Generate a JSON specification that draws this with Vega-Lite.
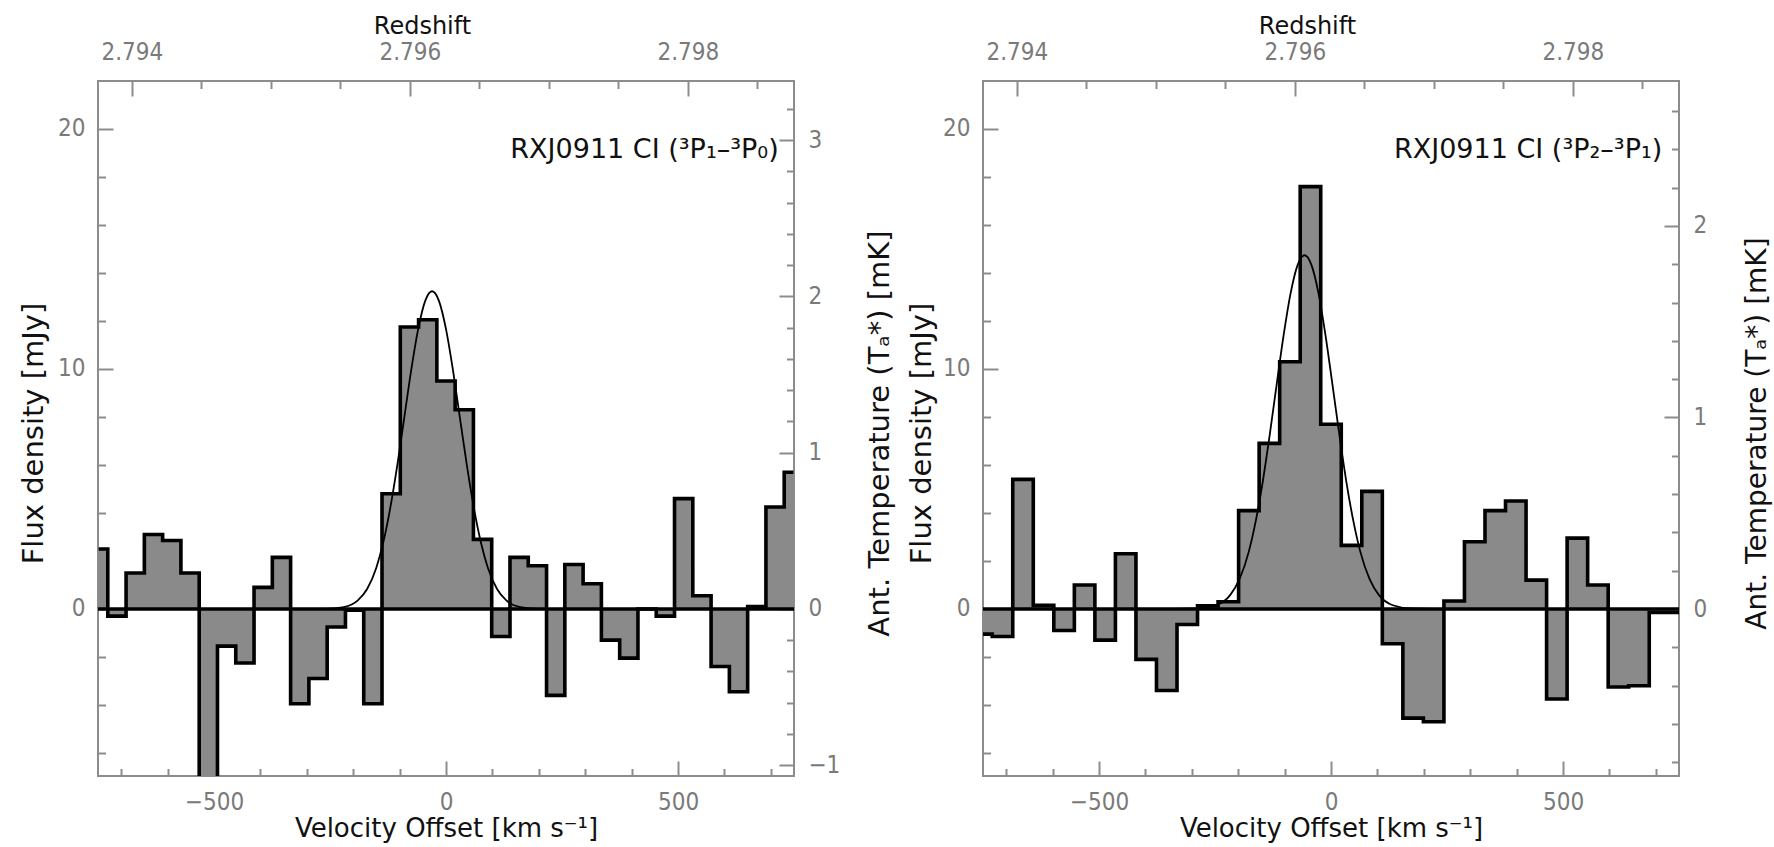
{
  "$schema": "https://vega.github.io/schema/vega-lite/v6.json",
  "padding": {"left": 18, "top": 13, "right": 5, "bottom": 5},
  "background": "white",
  "datasets": {
    "spec1": [
      {"v": -748.6, "f": 2.5}, {"v": -709.2, "f": -0.3}, {"v": -669.8, "f": 1.5}, {"v": -630.4, "f": 3.1},
      {"v": -591.0, "f": 2.85}, {"v": -551.6, "f": 1.5}, {"v": -512.2, "f": -8.0}, {"v": -472.8, "f": -1.55},
      {"v": -433.4, "f": -2.25}, {"v": -394.0, "f": 0.9}, {"v": -354.6, "f": 2.15}, {"v": -315.2, "f": -3.95},
      {"v": -275.8, "f": -2.9}, {"v": -236.4, "f": -0.75}, {"v": -197.0, "f": -0.05}, {"v": -157.6, "f": -3.95},
      {"v": -118.2, "f": 4.8}, {"v": -78.8, "f": 11.75}, {"v": -39.4, "f": 12.05}, {"v": 0.0, "f": 9.5},
      {"v": 39.4, "f": 8.3}, {"v": 78.8, "f": 2.9}, {"v": 118.2, "f": -1.15}, {"v": 157.6, "f": 2.15},
      {"v": 197.0, "f": 1.8}, {"v": 236.4, "f": -3.6}, {"v": 275.8, "f": 1.85}, {"v": 315.2, "f": 1.05},
      {"v": 354.6, "f": -1.3}, {"v": 394.0, "f": -2.05}, {"v": 433.4, "f": 0.0}, {"v": 472.8, "f": -0.3},
      {"v": 512.2, "f": 4.6}, {"v": 551.6, "f": 0.55}, {"v": 591.0, "f": -2.4}, {"v": 630.4, "f": -3.45},
      {"v": 669.8, "f": 0.1}, {"v": 709.2, "f": 4.25}, {"v": 748.6, "f": 5.7}
    ],
    "gauss1": [
      {"v": -750, "f": 0}, {"v": -310, "f": 0.0002}, {"v": -260, "f": 0.0075}, {"v": -220, "f": 0.081},
      {"v": -190, "f": 0.356}, {"v": -170, "f": 0.831}, {"v": -150, "f": 1.73}, {"v": -135, "f": 2.79},
      {"v": -120, "f": 4.22}, {"v": -105, "f": 5.98}, {"v": -90, "f": 7.96}, {"v": -75, "f": 9.95},
      {"v": -60, "f": 11.66}, {"v": -45, "f": 12.83}, {"v": -30, "f": 13.24}, {"v": -15, "f": 12.83},
      {"v": 0, "f": 11.66}, {"v": 15, "f": 9.95}, {"v": 30, "f": 7.96}, {"v": 45, "f": 5.98},
      {"v": 60, "f": 4.22}, {"v": 75, "f": 2.79}, {"v": 90, "f": 1.73}, {"v": 110, "f": 0.831},
      {"v": 130, "f": 0.356}, {"v": 160, "f": 0.081}, {"v": 200, "f": 0.0075}, {"v": 250, "f": 0.0002},
      {"v": 750, "f": 0}
    ],
    "spec2": [
      {"v": -752.25, "f": -1.05}, {"v": -708.0, "f": -1.15}, {"v": -663.75, "f": 5.4}, {"v": -619.5, "f": 0.15},
      {"v": -575.25, "f": -0.9}, {"v": -531.0, "f": 1.0}, {"v": -486.75, "f": -1.3}, {"v": -442.5, "f": 2.3},
      {"v": -398.25, "f": -2.1}, {"v": -354.0, "f": -3.4}, {"v": -309.75, "f": -0.65}, {"v": -265.5, "f": 0.13},
      {"v": -221.25, "f": 0.3}, {"v": -177.0, "f": 4.1}, {"v": -132.75, "f": 6.9}, {"v": -88.5, "f": 10.3},
      {"v": -44.25, "f": 17.6}, {"v": 0.0, "f": 7.7}, {"v": 44.25, "f": 2.65}, {"v": 88.5, "f": 4.9},
      {"v": 132.75, "f": -1.45}, {"v": 177.0, "f": -4.55}, {"v": 221.25, "f": -4.7}, {"v": 265.5, "f": 0.33},
      {"v": 309.75, "f": 2.8}, {"v": 354.0, "f": 4.1}, {"v": 398.25, "f": 4.5}, {"v": 442.5, "f": 1.2},
      {"v": 486.75, "f": -3.75}, {"v": 531.0, "f": 2.95}, {"v": 575.25, "f": 1.0}, {"v": 619.5, "f": -3.25},
      {"v": 663.75, "f": -3.2}, {"v": 708.0, "f": -0.15}, {"v": 752.25, "f": -0.15}
    ],
    "gauss2": [
      {"v": -750, "f": 0}, {"v": -337, "f": 0.0008}, {"v": -287, "f": 0.019}, {"v": -247, "f": 0.156},
      {"v": -217, "f": 0.586}, {"v": -197, "f": 1.25}, {"v": -177, "f": 2.4}, {"v": -162, "f": 3.68},
      {"v": -147, "f": 5.31}, {"v": -132, "f": 7.26}, {"v": -117, "f": 9.37}, {"v": -102, "f": 11.42},
      {"v": -87, "f": 13.16}, {"v": -72, "f": 14.33}, {"v": -57, "f": 14.74}, {"v": -42, "f": 14.33},
      {"v": -27, "f": 13.16}, {"v": -12, "f": 11.42}, {"v": 3, "f": 9.37}, {"v": 18, "f": 7.26},
      {"v": 33, "f": 5.31}, {"v": 48, "f": 3.68}, {"v": 63, "f": 2.4}, {"v": 83, "f": 1.25},
      {"v": 103, "f": 0.586}, {"v": 133, "f": 0.156}, {"v": 173, "f": 0.019}, {"v": 223, "f": 0.0008},
      {"v": 750, "f": 0}
    ],
    "label1": [{"t": "RXJ0911 CI (³P₁–³P₀)"}],
    "label2": [{"t": "RXJ0911 CI (³P₂–³P₁)"}],
    "sec1": [{"z": 2.794, "t": 0}, {"z": 2.798, "t": 3}],
    "sec2": [{"z": 2.794, "t": 0}, {"z": 2.798, "t": 2}]
  },
  "hconcat": [
    {
      "width": 696, "height": 695,
      "layer": [
        {
          "layer": [
            {
              "data": {"name": "spec1"},
              "mark": {"type": "area", "interpolate": "step", "color": "#8a8a8a", "clip": true},
              "encoding": {
                "x": {"field": "v", "type": "quantitative", "scale": {"domain": [-750, 750], "nice": false, "zero": false},
                  "axis": {"orient": "bottom", "title": "Velocity Offset [km s⁻¹]", "values": [-500, 0, 500], "format": "d",
                    "ticks": false, "tickSize": 0, "labelPadding": 14, "titleX": 348, "titleY": 52, "titleBaseline": "middle", "titleAlign": "center"}},
                "y": {"field": "f", "type": "quantitative", "scale": {"domain": [-6.96, 22], "nice": false, "zero": false},
                  "axis": {"orient": "left", "title": "Flux density [mJy]", "titleFontSize": 29, "values": [0, 10, 20], "format": "d",
                    "ticks": false, "tickSize": 0, "labelPadding": 13, "titleX": -65, "titleY": 352, "titleAngle": -90, "titleBaseline": "middle", "titleAlign": "center"}},
                "y2": {"datum": 0}
              }
            },
            {
              "data": {"name": "gauss1"},
              "mark": {"type": "line", "interpolate": "monotone", "color": "#000000", "strokeWidth": 1.8, "clip": true},
              "encoding": {
                "x": {"field": "v", "type": "quantitative", "scale": {"domain": [-750, 750], "nice": false, "zero": false}, "axis": null},
                "y": {"field": "f", "type": "quantitative", "scale": {"domain": [-6.96, 22], "nice": false, "zero": false}, "axis": null}
              }
            },
            {
              "data": {"name": "spec1"},
              "mark": {"type": "line", "interpolate": "step", "color": "#000000", "strokeWidth": 3.6, "clip": true},
              "encoding": {
                "x": {"field": "v", "type": "quantitative", "scale": {"domain": [-750, 750], "nice": false, "zero": false}, "axis": null},
                "y": {"field": "f", "type": "quantitative", "scale": {"domain": [-6.96, 22], "nice": false, "zero": false}, "axis": null}
              }
            },
            {
              "data": {"name": "label1"},
              "mark": {"type": "rule", "color": "#000000", "strokeWidth": 3.6},
              "encoding": {
                "y": {"datum": 0, "type": "quantitative", "scale": {"domain": [-6.96, 22], "nice": false, "zero": false}, "axis": null}
              }
            },
            {
              "data": {"name": "label1"},
              "mark": {"type": "text", "align": "right", "baseline": "alphabetic", "font": "DejaVu Sans", "fontSize": 27, "color": "#111111"},
              "encoding": {
                "x": {"datum": 717, "type": "quantitative", "scale": {"domain": [-750, 750], "nice": false, "zero": false}, "axis": null},
                "y": {"datum": 18.8, "type": "quantitative", "scale": {"domain": [-6.96, 22], "nice": false, "zero": false}, "axis": null},
                "text": {"field": "t"}
              }
            },
            {
              "data": {"name": "spec1"},
              "mark": {"type": "point", "opacity": 0},
              "encoding": {
                "x": {"field": "v", "type": "quantitative", "scale": {"domain": [-750, 750], "nice": false, "zero": false},
                  "axis": {"orient": "bottom", "title": null, "labels": false, "values": [-700,-600,-500,-400,-300,-200,-100,0,100,200,300,400,500,600,700],
                    "tickSize": {"condition": {"test": "datum.value % 500 === 0", "value": -15}, "value": -7.5}}},
                "y": {"field": "f", "type": "quantitative", "scale": {"domain": [-6.96, 22], "nice": false, "zero": false},
                  "axis": {"orient": "left", "title": null, "labels": false, "values": [-6,-4,-2,0,2,4,6,8,10,12,14,16,18,20],
                    "tickSize": {"condition": {"test": "datum.value % 10 === 0", "value": -15}, "value": -7.5}}}
              }
            }
          ],
          "resolve": {"axis": {"x": "independent", "y": "independent"}}
        },
        {
          "layer": [
            {
              "data": {"name": "sec1"},
              "mark": {"type": "point", "opacity": 0},
              "encoding": {
                "x": {"field": "z", "type": "quantitative", "scale": {"domain": [2.793756, 2.798764], "nice": false, "zero": false},
                  "axis": {"orient": "top", "title": "Redshift", "titleFontSize": 24, "values": [2.794, 2.796, 2.798], "format": ".3f",
                    "ticks": false, "tickSize": 0, "labelPadding": 17, "titleX": 324, "titleY": -55, "titleBaseline": "middle", "titleAlign": "center"}},
                "y": {"field": "t", "type": "quantitative", "scale": {"domain": [-1.069, 3.379], "nice": false, "zero": false},
                  "axis": {"orient": "right", "title": "Ant. Temperature (Tₐ*) [mK]", "titleFontSize": 29, "values": [-1, 0, 1, 2, 3], "format": "d",
                    "ticks": false, "tickSize": 0, "labelPadding": 14, "titleX": 85, "titleY": 352, "titleAngle": -90, "titleBaseline": "middle", "titleAlign": "center"}}
              }
            },
            {
              "data": {"name": "sec1"},
              "mark": {"type": "point", "opacity": 0},
              "encoding": {
                "x": {"field": "z", "type": "quantitative", "scale": {"domain": [2.793756, 2.798764], "nice": false, "zero": false},
                  "axis": {"orient": "top", "title": null, "labels": false, "values": [2.794, 2.7945, 2.795, 2.7955, 2.796, 2.7965, 2.797, 2.7975, 2.798, 2.7985],
                    "tickSize": {"condition": {"test": "abs(datum.value*500 - round(datum.value*500)) < 0.01", "value": -15}, "value": -7.5}}},
                "y": {"field": "t", "type": "quantitative", "scale": {"domain": [-1.069, 3.379], "nice": false, "zero": false},
                  "axis": {"orient": "right", "title": null, "labels": false, "values": [-1,-0.8,-0.6,-0.4,-0.2,0,0.2,0.4,0.6,0.8,1,1.2,1.4,1.6,1.8,2,2.2,2.4,2.6,2.8,3,3.2],
                    "tickSize": {"condition": {"test": "abs(datum.value - round(datum.value)) < 0.001", "value": -15}, "value": -7.5}}}
              }
            }
          ],
          "resolve": {"axis": {"x": "independent", "y": "independent"}}
        }
      ],
      "resolve": {"scale": {"x": "independent", "y": "independent"}}
    },
    {
      "width": 696, "height": 695,
      "layer": [
        {
          "layer": [
            {
              "data": {"name": "spec2"},
              "mark": {"type": "area", "interpolate": "step", "color": "#8a8a8a", "clip": true},
              "encoding": {
                "x": {"field": "v", "type": "quantitative", "scale": {"domain": [-750, 750], "nice": false, "zero": false},
                  "axis": {"orient": "bottom", "title": "Velocity Offset [km s⁻¹]", "values": [-500, 0, 500], "format": "d",
                    "ticks": false, "tickSize": 0, "labelPadding": 14, "titleX": 348, "titleY": 52, "titleBaseline": "middle", "titleAlign": "center"}},
                "y": {"field": "f", "type": "quantitative", "scale": {"domain": [-6.96, 22], "nice": false, "zero": false},
                  "axis": {"orient": "left", "title": "Flux density [mJy]", "titleFontSize": 29, "values": [0, 10, 20], "format": "d",
                    "ticks": false, "tickSize": 0, "labelPadding": 13, "titleX": -62, "titleY": 352, "titleAngle": -90, "titleBaseline": "middle", "titleAlign": "center"}},
                "y2": {"datum": 0}
              }
            },
            {
              "data": {"name": "gauss2"},
              "mark": {"type": "line", "interpolate": "monotone", "color": "#000000", "strokeWidth": 1.8, "clip": true},
              "encoding": {
                "x": {"field": "v", "type": "quantitative", "scale": {"domain": [-750, 750], "nice": false, "zero": false}, "axis": null},
                "y": {"field": "f", "type": "quantitative", "scale": {"domain": [-6.96, 22], "nice": false, "zero": false}, "axis": null}
              }
            },
            {
              "data": {"name": "spec2"},
              "mark": {"type": "line", "interpolate": "step", "color": "#000000", "strokeWidth": 3.6, "clip": true},
              "encoding": {
                "x": {"field": "v", "type": "quantitative", "scale": {"domain": [-750, 750], "nice": false, "zero": false}, "axis": null},
                "y": {"field": "f", "type": "quantitative", "scale": {"domain": [-6.96, 22], "nice": false, "zero": false}, "axis": null}
              }
            },
            {
              "data": {"name": "label2"},
              "mark": {"type": "rule", "color": "#000000", "strokeWidth": 3.6},
              "encoding": {
                "y": {"datum": 0, "type": "quantitative", "scale": {"domain": [-6.96, 22], "nice": false, "zero": false}, "axis": null}
              }
            },
            {
              "data": {"name": "label2"},
              "mark": {"type": "text", "align": "right", "baseline": "alphabetic", "font": "DejaVu Sans", "fontSize": 27, "color": "#111111"},
              "encoding": {
                "x": {"datum": 714, "type": "quantitative", "scale": {"domain": [-750, 750], "nice": false, "zero": false}, "axis": null},
                "y": {"datum": 18.8, "type": "quantitative", "scale": {"domain": [-6.96, 22], "nice": false, "zero": false}, "axis": null},
                "text": {"field": "t"}
              }
            },
            {
              "data": {"name": "spec2"},
              "mark": {"type": "point", "opacity": 0},
              "encoding": {
                "x": {"field": "v", "type": "quantitative", "scale": {"domain": [-750, 750], "nice": false, "zero": false},
                  "axis": {"orient": "bottom", "title": null, "labels": false, "values": [-700,-600,-500,-400,-300,-200,-100,0,100,200,300,400,500,600,700],
                    "tickSize": {"condition": {"test": "datum.value % 500 === 0", "value": -15}, "value": -7.5}}},
                "y": {"field": "f", "type": "quantitative", "scale": {"domain": [-6.96, 22], "nice": false, "zero": false},
                  "axis": {"orient": "left", "title": null, "labels": false, "values": [-6,-4,-2,0,2,4,6,8,10,12,14,16,18,20],
                    "tickSize": {"condition": {"test": "datum.value % 10 === 0", "value": -15}, "value": -7.5}}}
              }
            }
          ],
          "resolve": {"axis": {"x": "independent", "y": "independent"}}
        },
        {
          "layer": [
            {
              "data": {"name": "sec2"},
              "mark": {"type": "point", "opacity": 0},
              "encoding": {
                "x": {"field": "z", "type": "quantitative", "scale": {"domain": [2.793756, 2.798764], "nice": false, "zero": false},
                  "axis": {"orient": "top", "title": "Redshift", "titleFontSize": 24, "values": [2.794, 2.796, 2.798], "format": ".3f",
                    "ticks": false, "tickSize": 0, "labelPadding": 17, "titleX": 324, "titleY": -55, "titleBaseline": "middle", "titleAlign": "center"}},
                "y": {"field": "t", "type": "quantitative", "scale": {"domain": [-0.872, 2.757], "nice": false, "zero": false},
                  "axis": {"orient": "right", "title": "Ant. Temperature (Tₐ*) [mK]", "titleFontSize": 28, "values": [0, 1, 2], "format": "d",
                    "ticks": false, "tickSize": 0, "labelPadding": 14, "titleX": 78, "titleY": 352, "titleAngle": -90, "titleBaseline": "middle", "titleAlign": "center"}}
              }
            },
            {
              "data": {"name": "sec2"},
              "mark": {"type": "point", "opacity": 0},
              "encoding": {
                "x": {"field": "z", "type": "quantitative", "scale": {"domain": [2.793756, 2.798764], "nice": false, "zero": false},
                  "axis": {"orient": "top", "title": null, "labels": false, "values": [2.794, 2.7945, 2.795, 2.7955, 2.796, 2.7965, 2.797, 2.7975, 2.798, 2.7985],
                    "tickSize": {"condition": {"test": "abs(datum.value*500 - round(datum.value*500)) < 0.01", "value": -15}, "value": -7.5}}},
                "y": {"field": "t", "type": "quantitative", "scale": {"domain": [-0.872, 2.757], "nice": false, "zero": false},
                  "axis": {"orient": "right", "title": null, "labels": false, "values": [-0.8,-0.6,-0.4,-0.2,0,0.2,0.4,0.6,0.8,1,1.2,1.4,1.6,1.8,2,2.2,2.4,2.6],
                    "tickSize": {"condition": {"test": "abs(datum.value - round(datum.value)) < 0.001", "value": -15}, "value": -7.5}}}
              }
            }
          ],
          "resolve": {"axis": {"x": "independent", "y": "independent"}}
        }
      ],
      "resolve": {"scale": {"x": "independent", "y": "independent"}}
    }
  ],
  "spacing": 189,
  "bounds": "flush",
  "config": {
    "view": {"stroke": "#8c8c8c", "strokeWidth": 2},
    "font": "DejaVu Sans",
    "axis": {
      "labelFont": "DejaVu Sans Condensed, DejaVu Sans", "labelFontSize": 24, "labelColor": "#7a7a7a",
      "titleFont": "DejaVu Sans", "titleFontSize": 26, "titleFontWeight": "normal", "titleColor": "#111111",
      "tickColor": "#8c8c8c", "tickWidth": 2, "domain": false, "grid": false,
      "labelOverlap": false, "labelFlush": false
    }
  }
}
